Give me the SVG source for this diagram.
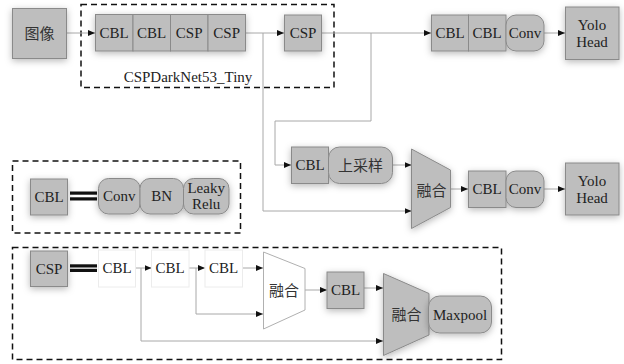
<svg xmlns="http://www.w3.org/2000/svg" width="624" height="364" viewBox="0 0 624 364">
  <defs>
    <marker id="arr" markerUnits="userSpaceOnUse" markerWidth="7" markerHeight="6" refX="7" refY="3" orient="auto">
      <path d="M0,0 L7,3 L0,6 Z" fill="#111"/>
    </marker>
    <filter id="shadow" x="-40%" y="-40%" width="180%" height="180%">
      <feDropShadow dx="0" dy="2" stdDeviation="3.5" flood-color="#000" flood-opacity="0.28"/>
    </filter>
    <style>
      .box { fill: #bebebe; stroke: #8a8a8a; stroke-width: 1; }
      .wbox { fill: #fff; stroke: #ececec; stroke-width: 1; }
      .sh { filter: url(#shadow); }
      text.t { font-family: 'Liberation Serif', serif; font-size: 15px; fill: #222; text-anchor: middle; }
      text.zh { font-family: 'Noto Sans CJK SC', sans-serif; font-size: 15px; fill: #333; text-anchor: middle; }
      .dash { fill: none; stroke: #111; stroke-width: 1.5; stroke-dasharray: 6 4; }
      .la { fill: none; stroke: #a8a8a8; stroke-width: 1; marker-end: url(#arr); }
    </style>
  </defs>
  <rect width="624" height="364" fill="#fff"/>

  <!-- frames -->
  <rect class="dash" x="81" y="4.5" width="253" height="83"/>
  <rect class="dash" x="12.5" y="161" width="228" height="72"/>
  <rect class="dash" x="12.5" y="247.5" width="489" height="112"/>
  <text class="t" x="188" y="82" font-family="Liberation Serif">CSPDarkNet53_Tiny</text>

  <!-- connectors -->
  <g id="connectors">
    <path class="la" d="M67,33 H95"/>
    <path class="la" d="M246,33 H284"/>
    <path class="la" d="M263,33 V211 H411.5"/>
    <path class="la" d="M322,33 H431"/>
    <path class="la" d="M371,33 V121 H275 V165 H291"/>
    <path class="la" d="M544,33 H565"/>
    <path class="la" d="M392,165 H411.5"/>
    <path class="la" d="M451,189 H468"/>
    <path class="la" d="M544,189 H565"/>
    <path class="la" d="M136,268 H151.5"/>
    <path class="la" d="M141,268 V341 H383"/>
    <path class="la" d="M189,268 H205"/>
    <path class="la" d="M196,268 V314 H263"/>
    <path class="la" d="M243,268 H263"/>
    <path class="la" d="M305,290 H327"/>
    <path class="la" d="M364,288 H383"/>
  </g>

  <!-- input -->
  <g id="image">
    <rect class="box sh" x="12.5" y="8.5" width="54" height="50"/>
    <text class="zh" x="39.5" y="39">图像</text>
  </g>

  <!-- backbone -->
  <g id="backbone">
    <g class="sh">
      <rect class="box" x="95.5" y="14.5" width="37.5" height="36.5"/>
      <rect class="box" x="133" y="14.5" width="37.5" height="36.5"/>
      <rect class="box" x="170.5" y="14.5" width="37.5" height="36.5"/>
      <rect class="box" x="208" y="14.5" width="37.5" height="36.5"/>
    </g>
    <text class="t" x="114.2" y="38">CBL</text>
    <text class="t" x="151.7" y="38">CBL</text>
    <text class="t" x="189.2" y="38">CSP</text>
    <text class="t" x="226.7" y="38">CSP</text>
  </g>
  <g id="csp-top">
    <rect class="box sh" x="284.5" y="15" width="37" height="36"/>
    <text class="t" x="303" y="38">CSP</text>
  </g>

  <!-- head 1 -->
  <g id="head1-convs">
    <g class="sh">
      <rect class="box" x="431.5" y="15" width="37" height="36"/>
      <rect class="box" x="468.5" y="15" width="37.5" height="36"/>
      <rect class="box" x="506" y="15" width="38" height="36" rx="10"/>
    </g>
    <text class="t" x="450" y="38">CBL</text>
    <text class="t" x="487.2" y="38">CBL</text>
    <text class="t" x="525" y="38">Conv</text>
  </g>
  <g id="yolo1">
    <rect class="box sh" x="565.5" y="7" width="53.5" height="52.5"/>
    <text class="t" x="592" y="30">Yolo</text>
    <text class="t" x="592" y="47">Head</text>
  </g>

  <!-- upsample branch -->
  <g id="upsample">
    <g class="sh">
      <rect class="box" x="291.5" y="147" width="37" height="36.5"/>
      <rect class="box" x="328.5" y="147" width="64" height="36.5" rx="11"/>
    </g>
    <text class="t" x="310" y="170">CBL</text>
    <text class="zh" x="360.5" y="171">上采样</text>
  </g>
  <g id="fuse1">
    <polygon class="box sh" points="411.5,149 450.5,170 450.5,207.5 411.5,228.5"/>
    <text class="zh" x="431.5" y="195.5">融合</text>
  </g>
  <g id="head2-convs">
    <g class="sh">
      <rect class="box" x="468.5" y="171" width="37.5" height="36.5"/>
      <rect class="box" x="506" y="171" width="38" height="36.5" rx="10"/>
    </g>
    <text class="t" x="487.2" y="194">CBL</text>
    <text class="t" x="525" y="194">Conv</text>
  </g>
  <g id="yolo2">
    <rect class="box sh" x="565.5" y="163" width="53.5" height="52"/>
    <text class="t" x="592" y="186">Yolo</text>
    <text class="t" x="592" y="203">Head</text>
  </g>

  <!-- CBL legend -->
  <g id="cbl-legend">
    <rect class="box sh" x="30.5" y="179" width="37" height="36"/>
    <text class="t" x="49" y="202">CBL</text>
    <rect x="70" y="191.5" width="27" height="3.2" fill="#111"/>
    <rect x="70" y="197.3" width="27" height="3.2" fill="#111"/>
    <g class="sh">
      <rect class="box" x="98.5" y="178.5" width="41.5" height="35.5" rx="10"/>
      <rect class="box" x="140" y="178.5" width="43.5" height="35.5" rx="10"/>
      <rect class="box" x="183.5" y="178.5" width="45.5" height="35.5" rx="10"/>
    </g>
    <text class="t" x="119.2" y="201">Conv</text>
    <text class="t" x="161.7" y="201">BN</text>
    <text class="t" x="206.2" y="193">Leaky</text>
    <text class="t" x="206.2" y="209">Relu</text>
  </g>

  <!-- CSP legend -->
  <g id="csp-legend">
    <rect class="box sh" x="30.5" y="251" width="37" height="35.5"/>
    <text class="t" x="49" y="274">CSP</text>
    <rect x="70" y="264.3" width="27" height="3.2" fill="#111"/>
    <rect x="70" y="268.8" width="27" height="3.2" fill="#111"/>
  </g>
  <g id="csp-cbl1">
    <rect class="wbox" x="98.5" y="250" width="37" height="37"/>
    <text class="t" x="117" y="273">CBL</text>
  </g>
  <g id="csp-cbl2">
    <rect class="wbox" x="151.5" y="250" width="37.5" height="37"/>
    <text class="t" x="170.2" y="273">CBL</text>
  </g>
  <g id="csp-cbl3">
    <rect class="wbox" x="205" y="250" width="37.5" height="37"/>
    <text class="t" x="223.7" y="273">CBL</text>
  </g>
  <g id="csp-fuse1">
    <polygon points="263.5,252 305,268.5 305,310 263.5,329" fill="#fff" stroke="#b0b0b0" stroke-width="1"/>
    <text class="zh" x="284" y="296">融合</text>
  </g>
  <g id="csp-cbl4">
    <rect class="box sh" x="327" y="272" width="37" height="36.5"/>
    <text class="t" x="345.5" y="295">CBL</text>
  </g>
  <g id="csp-fuse2">
    <polygon class="box sh" points="383.5,273.5 429,293.5 429,335 383.5,355.5"/>
    <text class="zh" x="406.5" y="319.5">融合</text>
  </g>
  <g id="maxpool">
    <rect class="box sh" x="428.5" y="296" width="63" height="37" rx="11"/>
    <text class="t" x="460" y="319.5">Maxpool</text>
  </g>
</svg>
